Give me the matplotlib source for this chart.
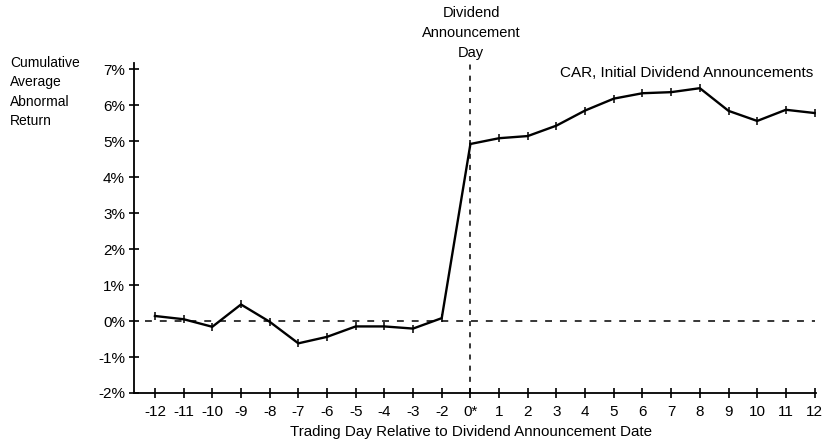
import matplotlib
matplotlib.use("Agg")
import matplotlib.pyplot as plt
import numpy as np

plt.rcParams['font.family'] = ['Liberation Sans', 'DejaVu Sans']

day_labels = ['-12', '-11', '-10', '-9', '-8', '-7', '-6', '-5', '-4', '-3', '-2',
              '0*', '1', '2', '3', '4', '5', '6', '7', '8', '9', '10', '11', '12']
car = [0.14, 0.05, -0.16, 0.46, -0.02, -0.62, -0.44, -0.15, -0.15, -0.21, 0.08,
       4.92, 5.08, 5.14, 5.43, 5.85, 6.18, 6.33, 6.36, 6.47, 5.84, 5.56, 5.87, 5.78]
y_ticks = [-2, -1, 0, 1, 2, 3, 4, 5, 6, 7]
y_tick_labels = ['-2%', '-1%', '0%', '1%', '2%', '3%', '4%', '5%', '6%', '7%']

W, H = 825, 441
fig = plt.figure(figsize=(W / 100, H / 100), dpi=100)
left, right, bottom, top = 134, 816, 393, 63
ax = fig.add_axes([left / W, 1 - bottom / H, (right - left) / W, (bottom - top) / H])

pos = np.arange(len(day_labels))
ann_idx = day_labels.index('0*')

ax.plot(pos, car, color='black', lw=1.7, marker='|', ms=6, mew=1.1, zorder=3)

# reference lines
ax.plot([-0.35, pos[-1]], [0, 0], color='black', lw=1.1, ls=(0, (4.5, 5.2)), zorder=2)
ax.axvline(ann_idx, color='black', lw=1.1, ls=(0, (3.3, 4.0)), zorder=2)

ax.set_xlim(-0.73, pos[-1] + 0.05)
ax.set_ylim(-2, 7.17)
ax.set_xticks(pos)
ax.set_xticklabels(day_labels)
ax.set_yticks(y_ticks)
ax.set_yticklabels(y_tick_labels)

for s in ['top', 'right']:
    ax.spines[s].set_visible(False)
for s in ['left', 'bottom']:
    ax.spines[s].set_linewidth(1.3)

ax.tick_params(axis='both', direction='inout', length=7, width=1.2, labelsize=11, colors='black')
ax.tick_params(axis='y', pad=3)
ax.tick_params(axis='x', pad=5)

fig.text(10 / W, 1 - 92 / H, 'Cumulative\nAverage\nAbnormal\nReturn', ha='left', va='center',
         fontsize=10, linespacing=1.48)
fig.text(471 / W, 1 - 33 / H, 'Dividend\nAnnouncement\nDay', ha='center', va='center',
         fontsize=10.5, linespacing=1.55)
fig.text(813 / W, 1 - 73 / H, 'CAR, Initial Dividend Announcements', ha='right', va='center',
         fontsize=11)
fig.text(471 / W, 1 - 432 / H, 'Trading Day Relative to Dividend Announcement Date', ha='center',
         va='center', fontsize=10.9)

fig.savefig('out.png', dpi=100)
